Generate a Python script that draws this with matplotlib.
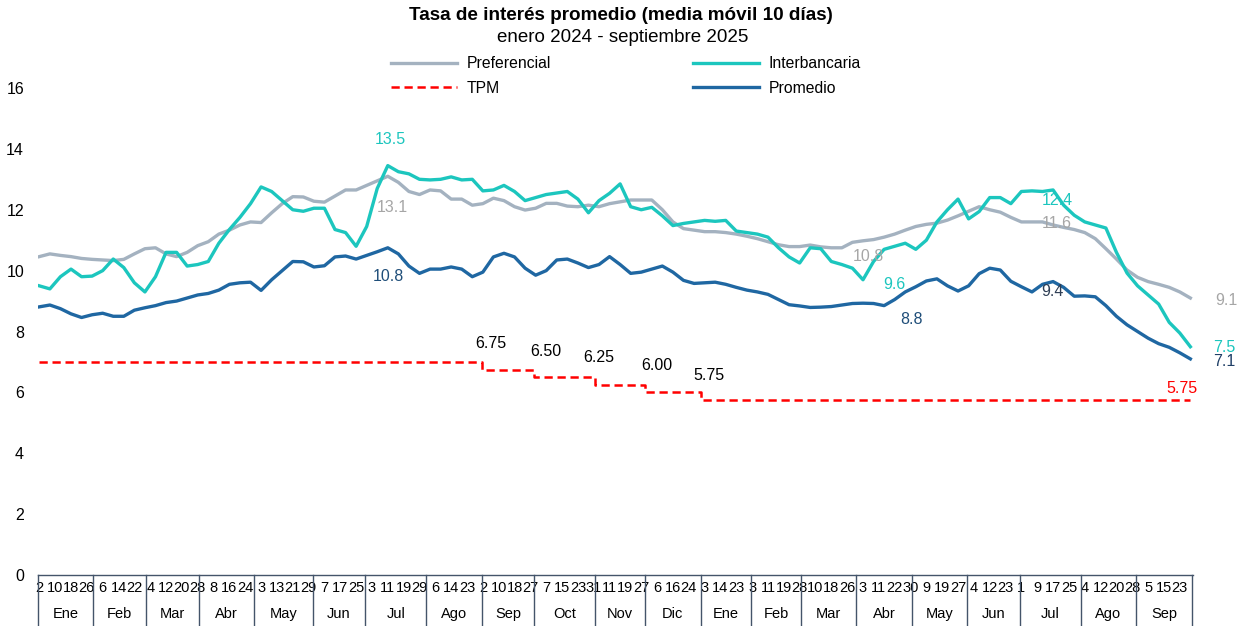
import numpy as np
import matplotlib
matplotlib.use("Agg")
import matplotlib.pyplot as plt
from matplotlib.lines import Line2D

plt.rcParams['font.family'] = ['Liberation Sans', 'DejaVu Sans']

title = "Tasa de interés promedio (media móvil 10 días)"
subtitle = "enero 2024 - septiembre 2025"

months = ["Ene", "Feb", "Mar", "Abr", "May", "Jun", "Jul", "Ago", "Sep", "Oct", "Nov", "Dic",
          "Ene", "Feb", "Mar", "Abr", "May", "Jun", "Jul", "Ago", "Sep"]
# daily observations in each month
month_days = [21, 20, 20, 21, 22, 20, 23, 21, 20, 23, 19, 21,
              19, 19, 21, 21, 21, 20, 23, 21, 21]
# day-of-month label shown every 6 observations
day_labels = ["2", "10", "18", "26", "6", "14", "22", "4", "12", "20", "28",
              "8", "16", "24", "3", "13", "21", "29", "7", "17", "25",
              "3", "11", "19", "29", "6", "14", "23", "2", "10", "18", "27",
              "7", "15", "23", "31", "11", "19", "27", "6", "16", "24",
              "3", "14", "23", "3", "11", "19", "28", "10", "18", "26",
              "3", "11", "22", "30", "9", "19", "27", "4", "12", "23",
              "1", "9", "17", "25", "4", "12", "20", "28", "5", "15", "23"]

# series sampled every 4 observations
preferencial = [10.46, 10.55, 10.50, 10.46, 10.40, 10.37, 10.35, 10.33, 10.37, 10.55,
                10.72, 10.75, 10.55, 10.46, 10.60, 10.82, 10.95, 11.20, 11.33, 11.50,
                11.60, 11.58, 11.90, 12.20, 12.43, 12.42, 12.28, 12.25, 12.45, 12.65,
                12.65, 12.80, 12.95, 13.10, 12.90, 12.60, 12.50, 12.65, 12.62, 12.35,
                12.35, 12.15, 12.20, 12.38, 12.30, 12.10, 11.99, 12.05, 12.21, 12.21,
                12.12, 12.10, 12.15, 12.10, 12.20, 12.26, 12.32, 12.32, 12.32, 12.00,
                11.60, 11.38, 11.33, 11.28, 11.28, 11.25, 11.20, 11.13, 11.05, 10.95,
                10.85, 10.79, 10.79, 10.84, 10.78, 10.75, 10.75, 10.93, 10.98, 11.02,
                11.10, 11.20, 11.33, 11.45, 11.52, 11.56, 11.66, 11.80, 11.95, 12.10,
                12.00, 11.92, 11.75, 11.60, 11.60, 11.60, 11.50, 11.42, 11.35, 11.25,
                11.05, 10.72, 10.38, 10.02, 9.78, 9.64, 9.55, 9.45, 9.30, 9.10]
interbancaria = [9.50, 9.40, 9.80, 10.05, 9.80, 9.82, 10.00, 10.38, 10.10, 9.60,
                 9.30, 9.80, 10.60, 10.60, 10.15, 10.20, 10.30, 10.90, 11.35, 11.75,
                 12.20, 12.75, 12.60, 12.30, 12.00, 11.95, 12.05, 12.05, 11.35, 11.25,
                 10.80, 11.45, 12.70, 13.45, 13.25, 13.18, 13.00, 12.98, 13.00, 13.08,
                 12.98, 13.00, 12.62, 12.65, 12.80, 12.60, 12.30, 12.40, 12.50, 12.55,
                 12.60, 12.35, 11.90, 12.30, 12.54, 12.85, 12.10, 12.00, 12.08, 11.80,
                 11.48, 11.55, 11.60, 11.65, 11.62, 11.65, 11.30, 11.25, 11.20, 11.10,
                 10.75, 10.45, 10.25, 10.75, 10.72, 10.30, 10.20, 10.08, 9.70, 10.30,
                 10.70, 10.80, 10.90, 10.70, 11.00, 11.60, 12.00, 12.35, 11.70, 11.94,
                 12.40, 12.40, 12.20, 12.60, 12.62, 12.60, 12.65, 12.15, 11.82, 11.60,
                 11.50, 11.40, 10.60, 9.92, 9.50, 9.20, 8.90, 8.30, 7.95, 7.50]
promedio = [8.81, 8.87, 8.75, 8.58, 8.46, 8.55, 8.60, 8.50, 8.50, 8.70,
            8.78, 8.85, 8.95, 9.00, 9.10, 9.20, 9.25, 9.36, 9.55, 9.60,
            9.62, 9.35, 9.70, 10.00, 10.30, 10.29, 10.12, 10.16, 10.45, 10.48,
            10.38, 10.50, 10.62, 10.75, 10.55, 10.15, 9.91, 10.05, 10.05, 10.12,
            10.05, 9.80, 9.95, 10.45, 10.57, 10.45, 10.08, 9.85, 10.00, 10.35,
            10.38, 10.25, 10.10, 10.20, 10.46, 10.20, 9.91, 9.95, 10.05, 10.15,
            9.95, 9.68, 9.58, 9.60, 9.62, 9.55, 9.45, 9.36, 9.30, 9.22,
            9.05, 8.88, 8.84, 8.79, 8.80, 8.82, 8.87, 8.92, 8.93, 8.92,
            8.85, 9.05, 9.30, 9.47, 9.66, 9.73, 9.50, 9.33, 9.50, 9.90,
            10.08, 10.02, 9.65, 9.47, 9.30, 9.55, 9.64, 9.45, 9.16, 9.17,
            9.14, 8.85, 8.50, 8.22, 8.00, 7.78, 7.60, 7.48, 7.30, 7.10]
tpm_levels = [7.00, 6.75, 6.50, 6.25, 6.00, 5.75]
tpm_start_month = [0, 8, 9, 10, 11, 12]

# (text, x index, y value, color)
annotations = [
    ("13.5", 132.8, 14.32, "#1CC6BE"),
    ("13.1", 133.6, 12.09, "#A6A6A6"),
    ("10.8", 132.4, 9.82, "#1F4E79"),
    ("6.75", 171.1, 7.62, "black"),
    ("6.50", 191.9, 7.33, "black"),
    ("6.25", 212.0, 7.13, "black"),
    ("6.00", 234.0, 6.87, "black"),
    ("5.75", 253.7, 6.57, "black"),
    ("10.8", 313.9, 10.48, "#A6A6A6"),
    ("9.6", 323.8, 9.56, "#1CC6BE"),
    ("8.8", 330.2, 8.38, "#1F4E79"),
    ("12.4", 385.5, 12.32, "#1CC6BE"),
    ("11.6", 385.5, 11.56, "#A6A6A6"),
    ("9.4", 383.6, 9.33, "#2F3F55"),
    ("9.1", 449.5, 9.03, "#A6A6A6"),
    ("7.5", 448.7, 7.46, "#1CC6BE"),
    ("7.1", 448.7, 7.03, "#1F3F66"),
    ("5.75", 432.9, 6.14, "#FF0000"),
]

c_pref = "#A4B2C0"
c_inter = "#1CC6BE"
c_prom = "#1F67A2"
c_tpm = "#FF0000"
c_axis = "#44546A"

N = int(np.sum(month_days))
step = 4
xs = np.arange(0, N, step)
month_start = np.concatenate([[0], np.cumsum(month_days)[:-1]])
tpm = np.zeros(N)
for lvl, m in zip(tpm_levels, tpm_start_month):
    tpm[month_start[m]:] = lvl

W, H = 1247, 626
fig = plt.figure(figsize=(W / 100, H / 100), dpi=100)
ax = fig.add_axes([38 / W, 1 - 575 / H, 1155 / W, (575 - 88) / H])

ax.plot(xs, preferencial, color=c_pref, lw=2.4, solid_joinstyle='round')
ax.plot(xs, interbancaria, color=c_inter, lw=2.4, solid_joinstyle='round')
ax.plot(np.arange(N), tpm, color=c_tpm, lw=1.8, ls=(0, (3.3, 1.9)), drawstyle='steps-mid')
ax.plot(xs, promedio, color=c_prom, lw=2.4, solid_joinstyle='round')

ax.set_xlim(-0.5, N)
ax.set_ylim(0, 16)
ax.set_yticks(np.arange(0, 17, 2))
ax.tick_params(axis='y', length=0, labelsize=11.5, pad=10)

for s in ['top', 'right', 'left']:
    ax.spines[s].set_visible(False)
ax.spines['bottom'].set_color(c_axis)
ax.spines['bottom'].set_linewidth(1.0)

tick_pos = np.arange(0, 6 * len(day_labels), 6)
ax.set_xticks(tick_pos)
ax.set_xticklabels(day_labels, fontsize=10.5)
ax.tick_params(axis='x', length=0, pad=4.5)

trans = ax.get_xaxis_transform()
bounds = np.concatenate([month_start, [N]]) - 0.5
for b in bounds:
    ax.plot([b, b], [0, -0.105], color=c_axis, lw=1.0, transform=trans, clip_on=False)
for name, s, n in zip(months, month_start, month_days):
    ax.text(s + (n - 1) / 2, -0.08, name, transform=trans, ha='center', va='center', fontsize=10.5)

for txt, x, y, col in annotations:
    ax.text(x, y, txt, color=col, fontsize=11.5, ha='center', va='center')

fig.text(621 / W, 1 - 15 / H, title, ha='center', va='center', fontsize=13.6, fontweight='bold')
fig.text(623 / W, 1 - 37 / H, subtitle, ha='center', va='center', fontsize=13.5)

handles = [Line2D([], [], color=c_pref, lw=2.4),
           Line2D([], [], color=c_tpm, lw=1.8, ls=(0, (3.3, 1.9))),
           Line2D([], [], color=c_inter, lw=2.4),
           Line2D([], [], color=c_prom, lw=2.4)]
labels = ["Preferencial", "TPM", "Interbancaria", "Promedio"]
fig.legend(handles, labels, ncol=2, loc='center', bbox_to_anchor=(626 / W, 1 - 76 / H),
           frameon=False, fontsize=11.3, handlelength=4.2, columnspacing=9.0,
           labelspacing=0.6, handletextpad=0.65)

fig.savefig("out.png", dpi=100)
